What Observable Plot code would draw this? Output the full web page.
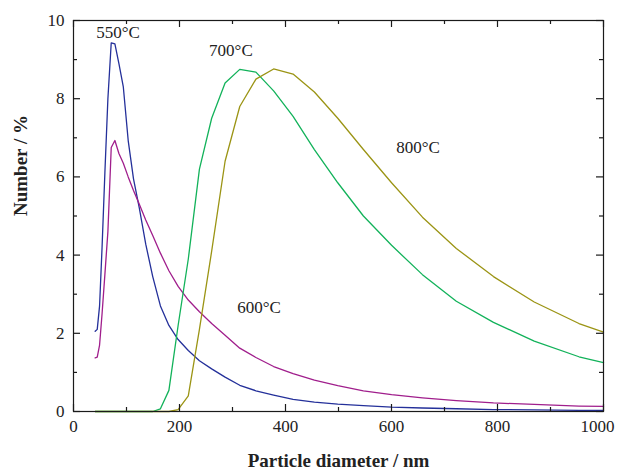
<!DOCTYPE html>
<html><head><meta charset="utf-8">
<script src="https://cdn.jsdelivr.net/npm/d3@7"></script>
<script src="https://cdn.jsdelivr.net/npm/@observablehq/plot@0.6"></script>
<style>body{margin:0;background:#fff}</style>
</head><body><div id="chart"></div>
<script>
// Particle diameter bins (nm)
const sizes = [40.9, 44.8, 49.2, 53.9, 59.2, 64.9, 71.2, 78.1, 85.7, 94.0, 103.2, 113.2, 124.2, 136.3, 149.5, 164.0, 180.0, 197.4, 216.6, 237.6, 260.7, 286.0, 313.7, 344.2, 377.6, 414.3, 454.5, 498.6, 547.0, 600.1, 658.4, 722.3, 792.4, 869.3, 953.7, 1000];
// Number (%) per series
const t550 = [2.05, 2.1, 2.7, 4.2, 6.1, 8.0, 9.43, 9.40, 8.9, 8.3, 6.93, 5.95, 5.2, 4.28, 3.45, 2.7, 2.2, 1.84, 1.56, 1.3, 1.09, 0.88, 0.67, 0.53, 0.42, 0.31, 0.24, 0.19, 0.15, 0.11, 0.09, 0.07, 0.05, 0.04, 0.03, 0.03];
const t600 = [1.37, 1.39, 1.7, 2.5, 3.5, 4.6, 6.75, 6.93, 6.6, 6.35, 6.0, 5.65, 5.3, 4.9, 4.5, 4.05, 3.6, 3.2, 2.85, 2.55, 2.25, 1.95, 1.62, 1.38, 1.15, 0.97, 0.80, 0.66, 0.53, 0.43, 0.35, 0.28, 0.22, 0.18, 0.14, 0.13];
const t700 = [0, 0, 0, 0, 0, 0, 0, 0, 0, 0, 0, 0, 0, 0, 0, 0.07, 0.54, 2.2, 3.9, 6.2, 7.5, 8.4, 8.75, 8.68, 8.2, 7.55, 6.7, 5.85, 5.0, 4.25, 3.5, 2.82, 2.28, 1.8, 1.4, 1.25];
const t800 = [0, 0, 0, 0, 0, 0, 0, 0, 0, 0, 0, 0, 0, 0, 0, 0, 0, 0.05, 0.4, 2.1, 4.1, 6.4, 7.8, 8.5, 8.76, 8.63, 8.17, 7.5, 6.7, 5.85, 4.97, 4.17, 3.45, 2.8, 2.25, 2.03];
const seriesNames = ["550", "600", "700", "800"];
const seriesColors = ["#24309a", "#a01e8c", "#12b25a", "#9b9414"];
// Ticks
const xMajorTicks = [0, 200, 400, 600, 800, 1000];
const xLabelTicks = [0, 200, 400, 600, 800];
const xLastTick = [1000];
const xMinorTicks = [100, 300, 500, 700, 900];
const yMajorTicks = [0, 2, 4, 6, 8, 10];
const yMinorTicks = [1, 3, 5, 7, 9];
// Annotations
const labelTexts = ["550°C", "700°C", "800°C", "600°C"];
const labelX = [84, 297, 650, 350];
const labelY = [9.69, 9.22, 6.75, 2.66];

const W = 617, H = 472, mL = 73, mR = 14, mT = 20, mB = 61;
const plotW = W - mL - mR, plotH = H - mT - mB;
const rows = [];
[t550, t600, t700, t800].forEach((vals, i) => vals.forEach((v, j) => rows.push({series: seriesNames[i], size: sizes[j], value: v})));
const labels = labelTexts.map((t, i) => ({text: t, x: labelX[i], y: labelY[i]}));
const ink = "#1a1a1a";

const chart = Plot.plot({
  width: W, height: H, marginLeft: mL, marginRight: mR, marginTop: mT, marginBottom: mB,
  style: {fontFamily: "'Liberation Serif', 'Times New Roman', serif", background: "#fff", color: "#222"},
  x: {domain: [0, 1000]},
  y: {domain: [0, 10]},
  color: {domain: seriesNames, range: seriesColors},
  marks: [
    Plot.lineY(rows, {x: "size", y: "value", z: "series", stroke: "series", strokeWidth: 1.3}),
    Plot.frame({stroke: ink, strokeWidth: 1.2}),
    Plot.tickX(xMajorTicks, {x: d => d, insetTop: plotH - 7, stroke: ink, strokeWidth: 1.2}),
    Plot.tickX(xMajorTicks, {x: d => d, insetBottom: plotH - 7, stroke: ink, strokeWidth: 1.2}),
    Plot.tickX(xMinorTicks, {x: d => d, insetTop: plotH - 4, stroke: ink, strokeWidth: 1.2}),
    Plot.tickX(xMinorTicks, {x: d => d, insetBottom: plotH - 4, stroke: ink, strokeWidth: 1.2}),
    Plot.tickY(yMajorTicks, {y: d => d, insetRight: plotW - 7, stroke: ink, strokeWidth: 1.2}),
    Plot.tickY(yMajorTicks, {y: d => d, insetLeft: plotW - 7, stroke: ink, strokeWidth: 1.2}),
    Plot.tickY(yMinorTicks, {y: d => d, insetRight: plotW - 4, stroke: ink, strokeWidth: 1.2}),
    Plot.tickY(yMinorTicks, {y: d => d, insetLeft: plotW - 4, stroke: ink, strokeWidth: 1.2}),
    Plot.axisX({ticks: xLabelTicks, tickSize: 0, tickPadding: 8, fontSize: 17, label: null, tickFormat: d => String(d)}),
    Plot.axisX({ticks: xLastTick, tickSize: 0, tickPadding: 8, fontSize: 17, label: null, dx: -6, tickFormat: d => String(d)}),
    Plot.axisY({ticks: yMajorTicks, tickSize: 0, tickPadding: 9, fontSize: 17, label: null, tickFormat: d => String(d)}),
    Plot.text(labels, {x: "x", y: "y", text: "text", fontSize: 17, fill: "#222"}),
    Plot.text(["Particle diameter / nm"], {text: d => d, frameAnchor: "bottom", dy: 55, fontSize: 19, fontWeight: "bold", fill: "#222"}),
    Plot.text(["Number / %"], {text: d => d, frameAnchor: "left", dx: -53, rotate: -90, fontSize: 19, fontWeight: "bold", fill: "#222"})
  ]
});
document.getElementById("chart").appendChild(chart);
</script>
</body></html>
